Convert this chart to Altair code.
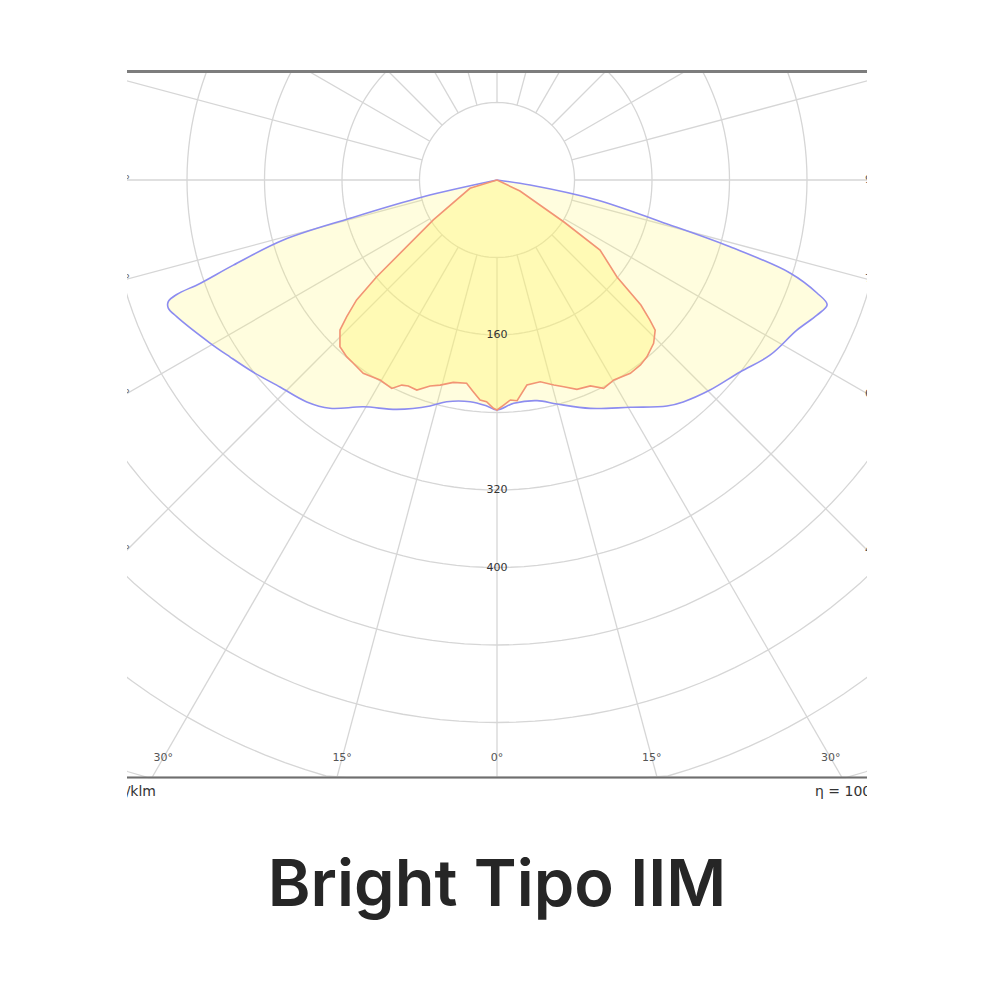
import altair as alt
import pandas as pd

# ---- Photometric data: gamma angle (deg, 0 = straight down) and intensity (cd/klm)
blue_gamma = [-90, -77.2, -75.4, -74.3, -72.1, -70.8, -70.33, -69.7, -68.7, -66.9, -60.4,
              -56.5, -51.8, -46.35, -40.6, -36.2, -30.5, -23.6, -16.5, -12.8, -6.9, -2.6, 0,
              4.3, 10.3, 15.0, 22.2, 30.4, 36.95, 40.0, 45.4, 51.7, 57.3, 63.4, 67.1, 69.3,
              70.55, 72.4, 74.0, 75.6, 78.7, 81.4, 90]
blue_intensity = [0, 78.0, 156.8, 229.1, 286.0, 324.6, 351.1, 361.8, 364.2, 359.5, 340.7,
                  330.7, 320.5, 309.6, 301.7, 292.0, 271.7, 258.4, 243.3, 234.7, 230.5, 233.5, 237.4,
                  231.1, 231.5, 239.4, 254.6, 272.0, 291.9, 299.0, 308.8, 319.7, 334.8, 346.2, 358.5, 364.3,
                  350.3, 317.3, 250.3, 178.0, 105.3, 34.5, 0]

red_gamma = [-90, -72.9, -57.9, -51.2, -49.5, -47.7, -46.3, -43.3, -40.4, -38.1, -34.7, -30.3,
             -26.8, -24.9, -23.3, -20.9, -18.0, -15.5, -12.2, -8.5, -6.4, -4.4, -2.7, -0.9, 0,
             1.7, 3.5, 5.2, 8.3, 12.1, 15.5, 17.9, 20.9, 24.4, 27.1, 30.3, 34.6, 37.8, 40.3,
             43.8, 46.5, 47.5, 49.0, 51.05, 55.8, 57.9, 64.4, 90]
red_intensity = [0, 29.2, 77.6, 159.3, 190.6, 209.7, 224.2, 236.4, 239.5, 240.4, 242.6, 239.2,
                 241.0, 233.4, 231.5, 232.1, 223.6, 219.7, 213.7, 212.2, 219.9, 227.8, 229.1, 235.7, 237.4,
                 232.4, 227.5, 228.8, 213.9, 213.0, 219.6, 224.2, 231.3, 233.4, 241.6, 239.1, 242.4, 241.6, 239.3,
                 233.6, 225.1, 214.1, 196.8, 159.3, 128.6, 81.6, 26.3, 0]

ring_values = [80, 160, 240, 320, 400, 480, 560, 640, 720, 800]
ring_labels = [160, 320, 400]
spoke_angles = [-165, -150, -135, -120, -105, -90, -75, -60, -45, -30, -15, 0,
                15, 30, 45, 60, 75, 90, 105, 120, 135, 150, 165, 180]
bottom_angle_labels = [-30, -15, 0, 15, 30]
edge_angle_labels = [90, 75, 60, 45]
title_text = ["Bright Tipo IIM"]

# ---- geometry (pixels)
PX = 77.5 / 80.0          # pixels per cd/klm
W, H = 740, 734           # plot area
CX, CY = 370, 109         # polar centre inside plot area
BOTTOM_PX = 597.5         # bottom frame line below centre
LABEL_PX = 578            # angle labels below centre

BOTTOM = BOTTOM_PX / PX
LABEL_Y = LABEL_PX / PX
xdom = [-CX / PX, (W - CX) / PX]
ydom = [-(H - CY) / PX, CY / PX]

X = alt.X("x:Q", scale=alt.Scale(domain=xdom, nice=False, zero=False), axis=None)
Y = alt.Y("y:Q", scale=alt.Scale(domain=ydom, nice=False, zero=False), axis=None)

polar_xy = dict(x="datum.I*sin(datum.g*PI/180)", y="-datum.I*cos(datum.g*PI/180)")

blue_df = pd.DataFrame({"g": blue_gamma, "I": blue_intensity, "i": list(range(len(blue_gamma)))})
red_df = pd.DataFrame({"g": red_gamma, "I": red_intensity, "i": list(range(len(red_gamma)))})

rings_df = pd.DataFrame([(R, t) for R in ring_values for t in range(0, 362, 2)], columns=["R", "t"])
spokes_df = pd.DataFrame([(g, e) for g in spoke_angles for e in (0, 1)], columns=["g", "end"])

GRID = "#d6d6d6"

rings = alt.Chart(rings_df).transform_calculate(
    x="datum.R*sin(datum.t*PI/180)",
    y=f"max(-datum.R*cos(datum.t*PI/180), {-BOTTOM})",
).mark_line(clip=True, stroke=GRID, strokeWidth=1.3).encode(
    x=X, y=Y, detail="R:N", order="t:Q")

spokes = alt.Chart(spokes_df).transform_calculate(
    r=f"datum.end == 0 ? 80 : (abs(datum.g) < 90 ? min(1400, {BOTTOM}/cos(datum.g*PI/180)) : 1400)"
).transform_calculate(
    x="datum.r*sin(datum.g*PI/180)", y="-datum.r*cos(datum.g*PI/180)"
).mark_line(clip=True, stroke=GRID, strokeWidth=1.3).encode(
    x=X, y=Y, detail="g:N", order="end:Q")

FILL = "#fff56b"
blue_fill = alt.Chart(blue_df).transform_calculate(**polar_xy).mark_line(
    clip=True, fill=FILL, fillOpacity=0.22, strokeOpacity=0, interpolate="catmull-rom"
).encode(x=X, y=Y, order="i:Q")
red_fill = alt.Chart(red_df).transform_calculate(**polar_xy).mark_line(
    clip=True, fill=FILL, fillOpacity=0.36, strokeOpacity=0).encode(x=X, y=Y, order="i:Q")
blue_line = alt.Chart(blue_df).transform_calculate(**polar_xy).mark_line(
    clip=True, stroke="#8c8cf0", strokeWidth=1.6, interpolate="catmull-rom"
).encode(x=X, y=Y, order="i:Q")
red_line = alt.Chart(red_df).transform_calculate(**polar_xy).mark_line(
    clip=True, stroke="#f29474", strokeWidth=1.6).encode(x=X, y=Y, order="i:Q")

ring_text = alt.Chart(pd.DataFrame({"R": ring_labels})).transform_calculate(
    x="0", y="-datum.R", label="toString(datum.R)"
).mark_text(font="DejaVu Sans", fontSize=11, color="#333333", baseline="middle").encode(
    x=X, y=Y, text="label:N")

bottom_text = alt.Chart(pd.DataFrame({"a": bottom_angle_labels})).transform_calculate(
    x=f"{LABEL_Y}*tan(datum.a*PI/180)", y=f"{-LABEL_Y}", label="abs(datum.a) + '°'"
).mark_text(font="DejaVu Sans", fontSize=11, color="#555555", baseline="middle").encode(
    x=X, y=Y, text="label:N")

edge_left = alt.Chart(pd.DataFrame({"a": edge_angle_labels})).transform_calculate(
    x=f"{xdom[0] + 3 / PX}", y=f"-({CX / PX})/tan(datum.a*PI/180)", label="datum.a + '°'"
).mark_text(clip=True, font="DejaVu Sans", fontSize=11, color="#555555", align="right",
            baseline="middle").encode(x=X, y=Y, text="label:N")
edge_right = alt.Chart(pd.DataFrame({"a": edge_angle_labels})).transform_calculate(
    x=f"{xdom[1] - 2 / PX}", y=f"-({(W - CX) / PX})/tan(datum.a*PI/180)", label="datum.a + '°'"
).mark_text(clip=True, font="DejaVu Sans", fontSize=11, color="#555555", align="left",
            baseline="middle").encode(x=X, y=Y, text="label:N")

one = pd.DataFrame({"k": [0]})
top_frame = alt.Chart(one).mark_rule(color="#7d7d7d", strokeWidth=3).encode(
    x=alt.value(0), x2=alt.value(W), y=alt.value(0.5))
bottom_frame = alt.Chart(one).mark_rule(color="#6e6e6e", strokeWidth=2).encode(
    x=alt.value(0), x2=alt.value(W), y=alt.value(706.5))

unit_text = alt.Chart(pd.DataFrame({"t": ["cd/klm"]})).mark_text(
    clip=True, font="DejaVu Sans", fontSize=14, color="#333333", align="right", baseline="middle"
).encode(text="t:N", x=alt.value(29), y=alt.value(721))
eta_text = alt.Chart(pd.DataFrame({"t": ["η = 100%"]})).mark_text(
    clip=True, font="DejaVu Sans", fontSize=14, color="#333333", align="left", baseline="middle"
).encode(text="t:N", x=alt.value(688), y=alt.value(721))

title = alt.Chart(pd.DataFrame({"t": title_text})).mark_text(
    font="Inter", fontSize=65, fontWeight=600, color="#262626", align="center",
    baseline="alphabetic"
).encode(text="t:N", x=alt.value(CX), y=alt.value(835))

chart = alt.layer(
    rings, spokes, blue_fill, red_fill, blue_line, red_line,
    ring_text, bottom_text, edge_left, edge_right,
    top_frame, bottom_frame, unit_text, eta_text, title
).properties(
    width=W, height=H,
    padding={"left": 119, "top": 63, "right": 125, "bottom": 200},
    autosize=alt.AutoSizeParams(type="none"),
    background="white",
).configure_view(strokeWidth=0)

chart.save("out.html", embed_options={"renderer": "svg", "actions": False})
